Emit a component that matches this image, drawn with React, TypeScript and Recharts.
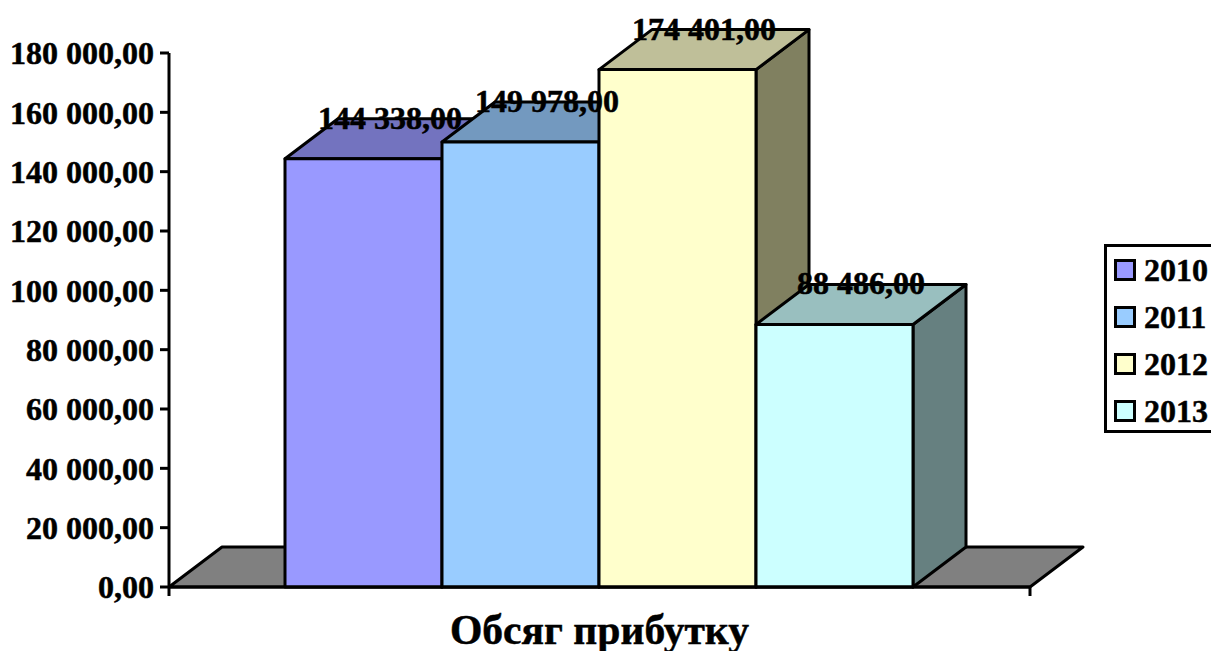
import React from "react";
import {
  BarChart,
  Bar,
  XAxis,
  YAxis,
  Legend,
  LabelList,
  ReferenceArea,
} from "recharts";

// Yearly profit volume, one column per year
const years = ["2010", "2011", "2012", "2013"];
const profit = [144338, 149978, 174401, 88486];
const frontColors = ["#9999FF", "#99CCFF", "#FFFFCC", "#CCFFFF"];
const topColors = ["#7373BF", "#7399BF", "#BFBF99", "#99BFBF"];
const sideColors = ["#4D4D80", "#4D6680", "#808060", "#668080"];
const categories = ["Обсяг прибутку"];
const yTicks = [0, 20000, 40000, 60000, 80000, 100000, 120000, 140000, 160000, 180000];

const rows = categories.map((name) => {
  const row: Record<string, string | number> = { name };
  years.forEach((year, i) => {
    row[year] = profit[i];
  });
  return row;
});

const FONT = '"Liberation Serif", "Times New Roman", serif';
const DEPTH_X = 53;
const DEPTH_Y = 40;
const LINE = 3;
const TEXT_WEIGHT = 0.5;

// "174 401,00": space between thousands, comma before the decimals
const formatNumber = (value: number) => {
  const whole = String(Math.round(value)).replace(/\B(?=(\d{3})+$)/g, " ");
  return `${whole},00`;
};

const pts = (list: number[][]) => list.map((p) => p.join(",")).join(" ");

// Extruded column: front, top and right faces
const makeColumn = (index: number) => (props: any) => {
  const { x, y, width, height } = props;
  const r = x + width;
  const b = y + height;
  return (
    <g stroke="#000" strokeWidth={LINE} strokeLinejoin="round">
      <polygon
        points={pts([[r, y], [r + DEPTH_X, y - DEPTH_Y], [r + DEPTH_X, b - DEPTH_Y], [r, b]])}
        fill={sideColors[index]}
      />
      <polygon
        points={pts([[x, y], [x + DEPTH_X, y - DEPTH_Y], [r + DEPTH_X, y - DEPTH_Y], [r, y]])}
        fill={topColors[index]}
      />
      <rect x={x} y={y} width={width} height={height} fill={frontColors[index]} />
    </g>
  );
};

// Grey floor parallelogram plus the two outer ticks of the category axis
const Floor = (props: any) => {
  const { x, y, width, height } = props;
  const b = y + height;
  const r = x + width;
  return (
    <g stroke="#000" strokeWidth={LINE} strokeLinejoin="round">
      <polygon
        points={pts([[x, b], [x + DEPTH_X, b - DEPTH_Y], [r + DEPTH_X, b - DEPTH_Y], [r, b]])}
        fill="#808080"
      />
      <line x1={x} y1={b} x2={x} y2={b + 9} />
      <line x1={r} y1={b} x2={r} y2={b + 9} />
    </g>
  );
};

const ValueLabel = (props: any) => {
  const { x, y, width, value } = props;
  return (
    <text
      x={x + width / 2 + DEPTH_X / 2}
      y={y - DEPTH_Y + 10}
      textAnchor="middle"
      fontFamily={FONT}
      fontWeight="bold"
      fontSize={32}
      fill="#000"
      stroke="#000"
      strokeWidth={TEXT_WEIGHT}
    >
      {formatNumber(value)}
    </text>
  );
};

const CategoryTick = (props: any) => {
  const { x, y, payload } = props;
  return (
    <text
      x={x}
      y={y + 49}
      textAnchor="middle"
      fontFamily={FONT}
      fontWeight="bold"
      fontSize={41.6}
      fill="#000"
      stroke="#000"
      strokeWidth={TEXT_WEIGHT}
    >
      {payload.value}
    </text>
  );
};

const LegendBox = ({ payload }: any) => (
  <div
    style={{
      boxSizing: "border-box",
      width: 120,
      height: 189,
      border: "3px solid #000",
      background: "#fff",
      position: "relative",
      fontFamily: FONT,
      fontWeight: "bold",
      fontSize: 32,
      lineHeight: "32px",
      color: "#000",
      WebkitTextStroke: `${TEXT_WEIGHT}px #000`,
    }}
  >
    {(payload || []).map((entry: any, i: number) => (
      <div
        key={entry.value}
        style={{ position: "absolute", left: 7, top: 7 + i * 47, display: "flex", alignItems: "center", height: 32 }}
      >
        <span
          style={{
            boxSizing: "border-box",
            width: 22,
            height: 22,
            border: "3px solid #000",
            background: frontColors[i],
            marginRight: 8,
          }}
        />
        {entry.value}
      </div>
    ))}
  </div>
);

export default function App() {
  return (
    <div style={{ position: "absolute", left: 0, top: 0, width: 1211, height: 651, overflow: "hidden", background: "#fff" }}>
      <BarChart
        width={1211}
        height={651}
        data={rows}
        margin={{ top: 53, right: 181, bottom: 0, left: 0 }}
        barCategoryGap={116}
        barGap={0}
      >
        <XAxis
          dataKey="name"
          height={64}
          axisLine={{ stroke: "#000", strokeWidth: LINE }}
          tickLine={false}
          tick={<CategoryTick />}
        />
        <YAxis
          width={169}
          domain={[0, 180000]}
          ticks={yTicks}
          interval={0}
          tickFormatter={formatNumber}
          tickSize={9}
          tickMargin={6}
          axisLine={{ stroke: "#000", strokeWidth: LINE }}
          tickLine={{ stroke: "#000", strokeWidth: LINE }}
          tick={{ fontFamily: FONT, fontWeight: "bold", fontSize: 32, fill: "#000", stroke: "#000", strokeWidth: TEXT_WEIGHT }}
        />
        <ReferenceArea y1={0} y2={13483} shape={<Floor />} ifOverflow="visible" />
        {years.map((year, i) => (
          <Bar key={year} dataKey={year} name={year} fill={frontColors[i]} shape={makeColumn(i)} isAnimationActive={false}>
            <LabelList dataKey={year} content={<ValueLabel />} />
          </Bar>
        ))}
        <Legend
          layout="vertical"
          align="center"
          verticalAlign="middle"
          wrapperStyle={{ left: 1104, top: 244, width: 120, height: 189 }}
          content={<LegendBox />}
        />
      </BarChart>
    </div>
  );
}
